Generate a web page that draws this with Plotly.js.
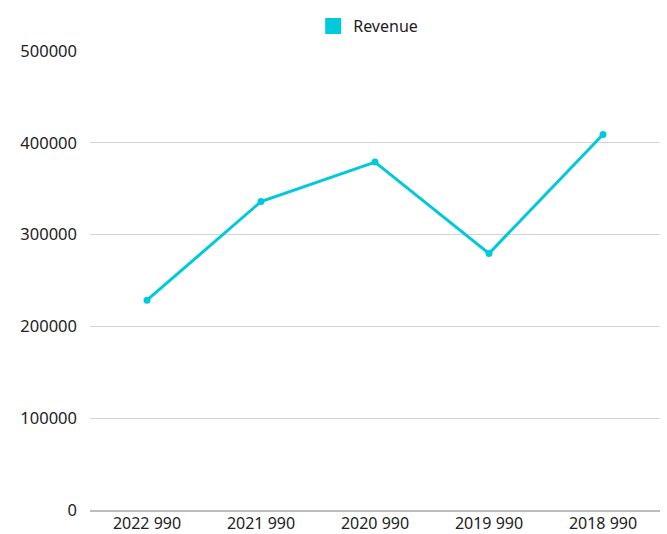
<!DOCTYPE html>
<html><head><meta charset="utf-8">
<script src="https://cdn.plot.ly/plotly-3.0.1.min.js"></script>
<style>html,body{margin:0;padding:0;background:#fff}#chart{width:667px;height:534px}</style>
</head><body><div id="chart"></div>
<script>
const categories = ["2022 990", "2021 990", "2020 990", "2019 990", "2018 990"];
const revenue = [228500, 336000, 379000, 279500, 409000];
const seriesName = "Revenue";
const yTicks = [0, 100000, 200000, 300000, 400000, 500000];
const color = "#00c9db";

const traces = [
  {x: categories, y: revenue, type: "scatter", mode: "lines+markers", name: seriesName,
   line: {color: color, width: 3}, marker: {color: color, size: 7}, showlegend: false},
  {x: [null], y: [null], type: "scatter", mode: "markers", name: seriesName,
   marker: {color: color, size: 20, symbol: "square"}, showlegend: true}
];
const layout = {
  width: 667, height: 534,
  margin: {l: 90, r: 7, t: 51, b: 24, autoexpand: false},
  paper_bgcolor: "#fff", plot_bgcolor: "#fff",
  font: {family: "Noto Sans, Open Sans, sans-serif", size: 16.5, color: "#222"},
  showlegend: true,
  legend: {orientation: "h", x: 0.552, xanchor: "center", xref: "container",
           y: 0.951, yanchor: "middle", yref: "container",
           font: {size: 16, color: "#222"}, itemsizing: "trace"},
  xaxis: {type: "category", range: [-0.5, 4.5], showgrid: false, showline: true,
          linecolor: "#bdbdbd", linewidth: 2, ticks: "", tickfont: {size: 16},
          ticklabelstandoff: -2, fixedrange: true},
  yaxis: {range: [0, 500000], tickvals: yTicks, ticktext: yTicks.map(String),
          showgrid: true, gridcolor: "#d4d4d4", gridwidth: 1, zeroline: false,
          ticks: "", ticklabelstandoff: 12, tickfont: {size: 16.5}, fixedrange: true}
};
Plotly.newPlot("chart", traces, layout, {displayModeBar: false, staticPlot: true});
</script></body></html>
